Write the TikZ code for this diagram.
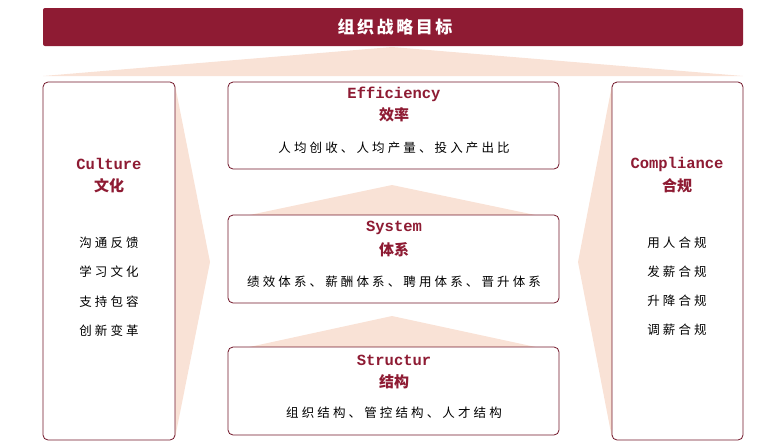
\documentclass[tikz,border=0pt]{standalone}
\usepackage{fontspec}
\setmonofont{Liberation Mono}
\newfontfamily\cjk{Noto Sans CJK SC}
\newfontfamily\cjksp{Noto Sans CJK SC}[LetterSpace=25]
\definecolor{wine}{HTML}{8E1B33}
\definecolor{peach}{HTML}{F9E2D6}
\begin{document}
\begin{tikzpicture}[x=1pt,y=-1pt,
 boxst/.style={draw=wine!80!black,line width=0.8pt,rounded corners=5pt,fill=white},
 ttl/.style={text=wine,font=\ttfamily\bfseries\fontsize{15.5}{17}\selectfont,align=center},
 ttlc/.style={text=wine,font=\cjk\bfseries\fontsize{15}{17}\selectfont},
 body/.style={font=\cjksp\fontsize{12.5}{14}\selectfont,text=black}]
\useasboundingbox (0,0) rectangle (783,445);
% peach shapes
\fill[peach] (43,76) -- (392,47) -- (743,76) -- cycle;
\fill[peach] (175,85) -- (210,262) -- (175,438) -- cycle;
\fill[peach] (612,85) -- (578,262) -- (612,438) -- cycle;
\fill[peach] (240,217) -- (392,185) -- (545,217) -- cycle;
\fill[peach] (240,349) -- (392,316) -- (545,349) -- cycle;
% top bar
\fill[wine,rounded corners=2pt] (43,8) rectangle (743,46);
\node[text=white,font=\cjk\bfseries\fontsize{17}{19}\selectfont\addfontfeature{LetterSpace=15}] (goal) at (395,27) {组织战略目标};
% boxes
\draw[boxst] (43,82) rectangle (175,440);
\draw[boxst] (612,82) rectangle (743,440);
\draw[boxst] (228,82) rectangle (559,169);
\draw[boxst] (228,215) rectangle (559,303);
\draw[boxst] (228,347) rectangle (559,435);
% culture
\node[ttl] (cu) at (109,164) {Culture};
\node[ttlc] (cuc) at (109,186) {文化};
\node[body] (c1) at (109,243) {沟通反馈};
\node[body] (c2) at (109,272) {学习文化};
\node[body] (c3) at (109,302) {支持包容};
\node[body] (c4) at (109,331) {创新变革};
% compliance
\node[ttl] (co) at (677,164) {Compliance};
\node[ttlc] (coc) at (677,186) {合规};
\node[body] (d1) at (677,243) {用人合规};
\node[body] (d2) at (677,272) {发薪合规};
\node[body] (d3) at (677,301) {升降合规};
\node[body] (d4) at (677,330) {调薪合规};
% efficiency
\node[ttl] (ef) at (394,94) {Efficiency};
\node[ttlc] (efc) at (394,115) {效率};
\node[body] (e1) at (394,148) {人均创收、人均产量、投入产出比};
% system
\node[ttl] (sy) at (394,228) {System};
\node[ttlc] (syc) at (394,250) {体系};
\node[body] (s1) at (394,282) {绩效体系、薪酬体系、聘用体系、晋升体系};
% structure
\node[ttl] (st) at (394,360) {Structur};
\node[ttlc] (stc) at (394,382) {结构};
\node[body] (t1) at (394,413) {组织结构、管控结构、人才结构};
\end{tikzpicture}
\end{document}
